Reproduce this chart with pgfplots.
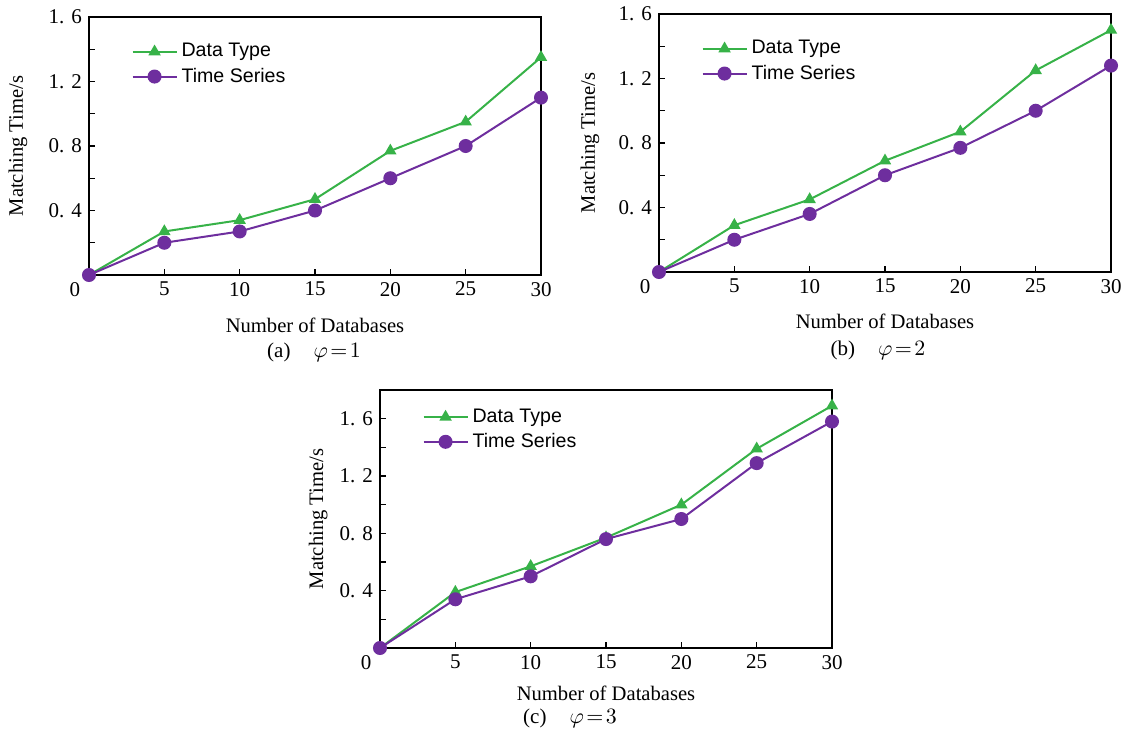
\documentclass[border=0pt]{standalone}
\usepackage{fontspec}
\setmainfont{Liberation Serif}
\newfontfamily\legfont{Liberation Sans}
\usepackage{pgfplots}
\pgfplotsset{compat=1.18}
\definecolor{dtgreen}{RGB}{55,178,72}
\definecolor{tspurple}{RGB}{110,46,158}

\pgfplotsset{
  dbaxis/.style={
    scale only axis, width=226pt, height=129pt,
    xmin=0, xmax=30, ymin=0,
    clip=false,
    /pgf/number format/assume math mode=true,
    xtick={5,10,...,30},
    extra x ticks={0}, extra x tick labels={0},
    extra x tick style={major tick length=0pt, xticklabel style={xshift=-7pt}},
    ytick={0.4,0.8,1.2,1.6}, yticklabels={0. 4,0. 8,1. 2,1. 6},
    tick align=inside, tick pos=left,
    major tick length=3pt, minor tick length=3pt,
    tick style={black, line width=0.6pt},
    axis line style={line width=0.8pt},
    ticklabel style={font=\fontsize{10.5}{12}\selectfont},
    label style={font=\fontsize{10.3}{12}\selectfont},
    xlabel={Number of Databases}, ylabel={Matching Time/s},
    legend style={at={(0.08,0.93)}, anchor=north west, draw=none, fill=none,
      font=\legfont\fontsize{9.8}{11}\selectfont, row sep=0pt},
    legend cell align=left,
    legend image code/.code={\draw[mark repeat=2,mark phase=2] plot coordinates {(0pt,0pt) (11pt,0pt) (22pt,0pt)};},
  },
  dt/.style={dtgreen, line width=1pt, mark=triangle*, mark size=2.6pt, mark options={solid}},
  ts/.style={tspurple, line width=1pt, mark=*, mark size=3pt, mark options={solid}},
}

\begin{document}
\begin{tikzpicture}
\useasboundingbox (0,0) rectangle (561pt,372.5pt);

% (a)
\begin{axis}[dbaxis, at={(44.5pt,235pt)}, anchor=south west, ymax=1.6,
  minor ytick={0.2,0.6,1.0,1.4},
  ylabel style={at={(rel axis cs:-0.157,0.5)}, anchor=center},
  xlabel style={at={(rel axis cs:0.5,-0.194)}, anchor=center}]
\addplot[dt] coordinates {(0,0) (5,0.27) (10,0.34) (15,0.47) (20,0.77) (25,0.95) (30,1.35)};
\addplot[ts] coordinates {(0,0) (5,0.20) (10,0.27) (15,0.40) (20,0.60) (25,0.80) (30,1.10)};
\legend{Data Type,Time Series}
\end{axis}

% (b)
\begin{axis}[dbaxis, at={(329.5pt,236.5pt)}, anchor=south west, ymax=1.6,
  minor ytick={0.2,0.6,1.0,1.4},
  ylabel style={at={(rel axis cs:-0.153,0.5)}, anchor=center},
  xlabel style={at={(rel axis cs:0.5,-0.19)}, anchor=center}]
\addplot[dt] coordinates {(0,0) (5,0.29) (10,0.45) (15,0.69) (20,0.87) (25,1.25) (30,1.50)};
\addplot[ts] coordinates {(0,0) (5,0.20) (10,0.36) (15,0.60) (20,0.77) (25,1.00) (30,1.28)};
\legend{Data Type,Time Series}
\end{axis}

% (c)
\begin{axis}[dbaxis, at={(190pt,48.5pt)}, anchor=south west, ymax=1.8,
  minor ytick={0.2,0.6,1.0,1.4},
  legend style={at={(0.08,0.96)}},
  ylabel style={at={(rel axis cs:-0.137,0.5)}, anchor=center},
  xlabel style={at={(rel axis cs:0.5,-0.175)}, anchor=center}]
\addplot[dt] coordinates {(0,0) (5,0.39) (10,0.57) (15,0.77) (20,1.00) (25,1.39) (30,1.69)};
\addplot[ts] coordinates {(0,0) (5,0.34) (10,0.50) (15,0.76) (20,0.90) (25,1.29) (30,1.58)};
\legend{Data Type,Time Series}
\end{axis}

\node[font=\fontsize{10.5}{12}\selectfont] at (157pt,196.5pt) {(a)\hspace{1.1em}$\varphi\!=\!1$};
\node[font=\fontsize{10.5}{12}\selectfont] at (439pt,197.5pt) {(b)\hspace{1.1em}$\varphi\!=\!2$};
\node[font=\fontsize{10.5}{12}\selectfont] at (285pt,13.5pt) {(c)\hspace{1.1em}$\varphi\!=\!3$};
\end{tikzpicture}
\end{document}
